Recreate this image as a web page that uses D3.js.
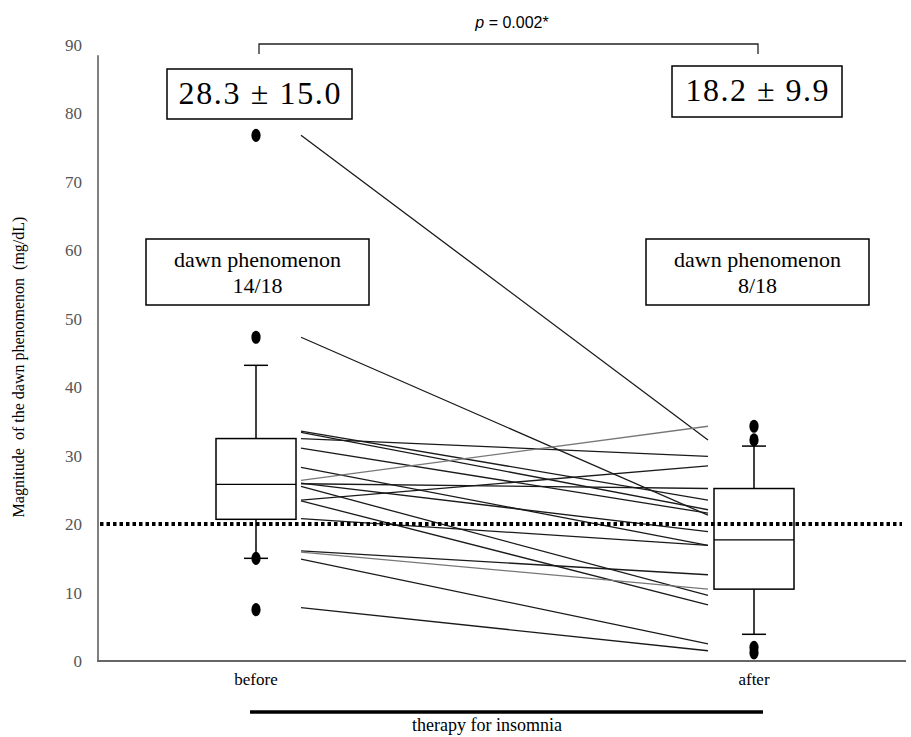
<!DOCTYPE html>
<html>
<head>
<meta charset="utf-8">
<script src="https://cdn.jsdelivr.net/npm/d3@7"></script>
<style>
  body { margin: 0; background: #fff; }
  svg { display: block; }
</style>
</head>
<body>
<svg id="chart" width="911" height="737"></svg>
<script>
// data
var groups = ["before", "after"];
var yTicks = [0, 10, 20, 30, 40, 50, 60, 70, 80, 90];

// paired values per patient (before -> after)
var beforeVals = [76.8, 47.3, 33.6, 33.4, 32.5, 31.1, 28.3, 26.4, 26.0, 25.9, 25.5, 23.5, 23.4, 20.8, 16.1, 15.9, 14.9, 7.8];
var afterVals  = [32.3, 21.3, 23.5, 22.1, 29.9, 21.6, 16.9, 34.3, 18.9, 25.2, 9.6, 28.5, 8.2, 16.9, 12.6, 10.5, 2.5, 1.5];
var grayLine   = [0, 0, 0, 0, 0, 0, 0, 1, 0, 0, 0, 0, 0, 0, 0, 1, 0, 0];

// box plot stats
var whiskerLow  = [15.0, 3.9];
var boxQ1       = [20.7, 10.5];
var boxMedian   = [25.8, 17.7];
var boxQ3       = [32.5, 25.2];
var whiskerHigh = [43.2, 31.4];
var outliersBefore = [76.8, 47.3, 15.0, 7.5];
var outliersAfter  = [34.3, 32.3, 2.0, 1.2];

var threshold = 20;
var meanSd = ["28.3 \u00b1 15.0", "18.2 \u00b1 9.9"];
var dawnCount = ["14/18", "8/18"];

var svg = d3.select("#chart");
var serif = "'Liberation Serif', 'Times New Roman', serif";

var y = d3.scaleLinear().domain([0, 90]).range([661, 45]);
var x = d3.scalePoint().domain(groups).range([256, 754]);

// axes
svg.append("line")
  .attr("x1", 98).attr("x2", 98)
  .attr("y1", y(88.5)).attr("y2", y(0))
  .attr("stroke", "#555").attr("stroke-width", 1.5);
svg.append("line")
  .attr("x1", 97).attr("x2", 906)
  .attr("y1", y(0)).attr("y2", y(0))
  .attr("stroke", "#666").attr("stroke-width", 1.8);

svg.selectAll(".ytick").data(yTicks).enter()
  .append("text").attr("class", "ytick")
  .attr("x", 82).attr("y", function(d) { return y(d); })
  .attr("dy", "0.35em")
  .attr("text-anchor", "end")
  .attr("font-family", serif).attr("font-size", 17)
  .attr("fill", "#555")
  .text(function(d) { return d; });

svg.append("text")
  .attr("transform", "translate(24," + 367 + ") rotate(-90)")
  .attr("text-anchor", "middle")
  .attr("font-family", serif).attr("font-size", 16)
  .attr("xml:space", "preserve")
  .text("Magnitude  of the dawn phenomenon  (mg/dL)");

svg.selectAll(".xlab").data(groups).enter()
  .append("text").attr("class", "xlab")
  .attr("x", function(d) { return x(d); }).attr("y", 685)
  .attr("text-anchor", "middle")
  .attr("font-family", serif).attr("font-size", 17)
  .text(function(d) { return d; });

// therapy bar
svg.append("line")
  .attr("x1", x("before") - 6).attr("x2", x("after") + 9)
  .attr("y1", 712).attr("y2", 712)
  .attr("stroke", "#000").attr("stroke-width", 3.5);
svg.append("text")
  .attr("x", 487).attr("y", 731)
  .attr("text-anchor", "middle")
  .attr("font-family", serif).attr("font-size", 18)
  .text("therapy for insomnia");

// patient lines
svg.selectAll(".pair").data(beforeVals).enter()
  .append("line").attr("class", "pair")
  .attr("x1", x("before") + 45).attr("x2", x("after") - 46)
  .attr("y1", function(d) { return y(d); })
  .attr("y2", function(d, i) { return y(afterVals[i]); })
  .attr("stroke", function(d, i) { return grayLine[i] ? "#777" : "#1a1a1a"; })
  .attr("stroke-width", 1.3);

// box plots
var bw = 80, cw = 24;
groups.forEach(function(g, i) {
  var cx = x(g);
  var grp = svg.append("g");
  grp.append("line")
    .attr("x1", cx).attr("x2", cx)
    .attr("y1", y(whiskerHigh[i])).attr("y2", y(boxQ3[i]))
    .attr("stroke", "#000").attr("stroke-width", 1.5);
  grp.append("line")
    .attr("x1", cx).attr("x2", cx)
    .attr("y1", y(boxQ1[i])).attr("y2", y(whiskerLow[i]))
    .attr("stroke", "#000").attr("stroke-width", 1.5);
  [whiskerHigh[i], whiskerLow[i]].forEach(function(v) {
    grp.append("line")
      .attr("x1", cx - cw / 2).attr("x2", cx + cw / 2)
      .attr("y1", y(v)).attr("y2", y(v))
      .attr("stroke", "#000").attr("stroke-width", 1.5);
  });
  grp.append("rect")
    .attr("x", cx - bw / 2).attr("width", bw)
    .attr("y", y(boxQ3[i])).attr("height", y(boxQ1[i]) - y(boxQ3[i]))
    .attr("fill", "#fff").attr("stroke", "#000").attr("stroke-width", 1.5);
  grp.append("line")
    .attr("x1", cx - bw / 2).attr("x2", cx + bw / 2)
    .attr("y1", y(boxMedian[i])).attr("y2", y(boxMedian[i]))
    .attr("stroke", "#000").attr("stroke-width", 1.2);
});

// threshold dotted line, on top of the boxes
svg.append("line")
  .attr("x1", 100).attr("x2", 902)
  .attr("y1", y(threshold)).attr("y2", y(threshold))
  .attr("stroke", "#000").attr("stroke-width", 4)
  .attr("stroke-dasharray", "3.5,3");

// outliers
function drawOutliers(vals, g) {
  svg.selectAll(".out-" + g).data(vals).enter()
    .append("ellipse").attr("class", "out-" + g)
    .attr("cx", x(g)).attr("cy", function(d) { return y(d); })
    .attr("rx", 4.6).attr("ry", 6.6)
    .attr("fill", "#000");
}
drawOutliers(outliersBefore, "before");
drawOutliers(outliersAfter, "after");

// significance bracket
var by = 44;
svg.append("path")
  .attr("d", "M" + (x("before") + 3) + "," + (by + 10) + "V" + by + "H" + (x("after") + 4) + "V" + (by + 10))
  .attr("fill", "none").attr("stroke", "#222").attr("stroke-width", 1.3);
var pt = svg.append("text")
  .attr("x", 512).attr("y", 28)
  .attr("text-anchor", "middle")
  .attr("font-family", "'Liberation Sans', Arial, sans-serif").attr("font-size", 16);
pt.append("tspan").attr("font-style", "italic").text("p");
pt.append("tspan").text(" = 0.002*");

// mean +- sd boxes
var msBox = [{cx: 259.5, y: 69, w: 185, h: 50, tl: 162}, {cx: 757, y: 66, w: 170, h: 51, tl: 143}];
msBox.forEach(function(b, i) {
  svg.append("rect")
    .attr("x", b.cx - b.w / 2).attr("y", b.y)
    .attr("width", b.w).attr("height", b.h)
    .attr("fill", "#fff").attr("stroke", "#000").attr("stroke-width", 1.5);
  svg.append("text")
    .attr("x", b.cx - b.tl / 2).attr("y", b.y + 34.5)
    .attr("font-family", serif).attr("font-size", 32)
    .attr("textLength", b.tl).attr("lengthAdjust", "spacing")
    .text(meanSd[i]);
});

// dawn phenomenon boxes
var dpBox = [{cx: 257.5}, {cx: 757.5}];
dpBox.forEach(function(b, i) {
  svg.append("rect")
    .attr("x", b.cx - 111.5).attr("y", 239)
    .attr("width", 223).attr("height", 66)
    .attr("fill", "#fff").attr("stroke", "#000").attr("stroke-width", 1.5);
  svg.append("text")
    .attr("x", b.cx).attr("y", 267)
    .attr("text-anchor", "middle")
    .attr("font-family", serif).attr("font-size", 22)
    .text("dawn phenomenon");
  svg.append("text")
    .attr("x", b.cx).attr("y", 293)
    .attr("text-anchor", "middle")
    .attr("font-family", serif).attr("font-size", 22)
    .text(dawnCount[i]);
});
</script>
</body>
</html>
